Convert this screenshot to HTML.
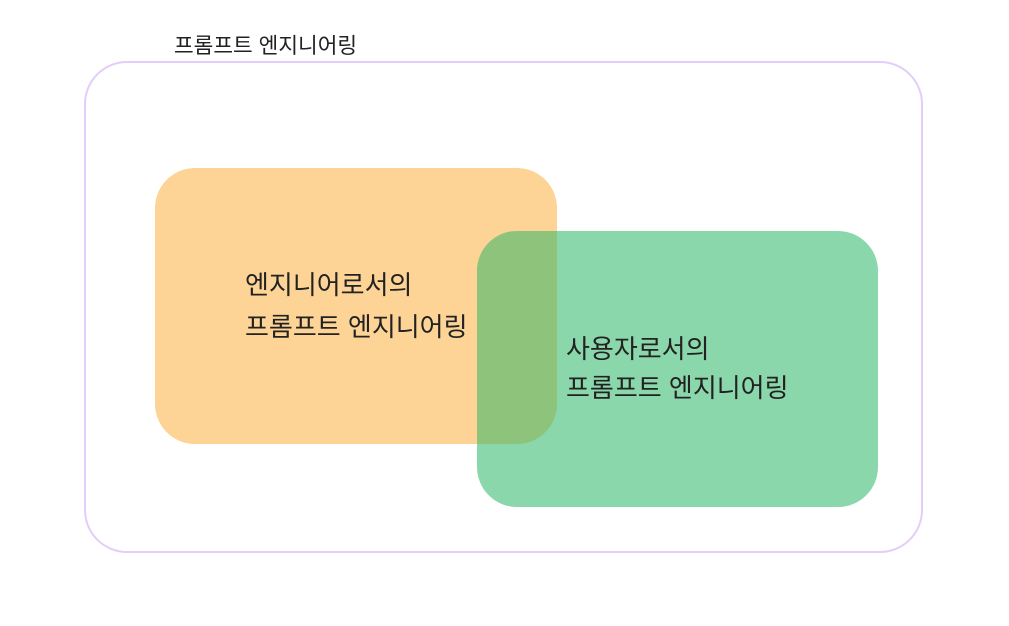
<!DOCTYPE html>
<html><head><meta charset="utf-8"><style>
html,body{margin:0;padding:0;background:#fff;}
body{width:1009px;height:621px;overflow:hidden;}
text{font-family:"Liberation Sans","Noto Sans CJK KR",sans-serif;fill:#222;}
</style></head><body>
<svg width="1009" height="621" viewBox="0 0 1009 621" xmlns="http://www.w3.org/2000/svg">
<defs>
<clipPath id="o"><rect x="155" y="168" width="402" height="276" rx="40"/></clipPath>
</defs>
<text x="174" y="53" font-size="21.4">프롬프트 엔지니어링</text>
<rect x="85" y="62" width="837" height="490" rx="42" fill="none" stroke="#e2cef8" stroke-width="2"/>
<rect x="155" y="168" width="402" height="276" rx="40" fill="#fdd396"/>
<rect x="477" y="231" width="401" height="276" rx="40" fill="#8ad7ab"/>
<rect x="477" y="231" width="401" height="276" rx="40" fill="#8dc37a" clip-path="url(#o)"/>
<text x="245" y="294" font-size="26">엔지니어로서의</text>
<text x="245" y="336" font-size="26">프롬프트 엔지니어링</text>
<text x="566" y="358" font-size="26">사용자로서의</text>
<text x="566" y="397" font-size="26">프롬프트 엔지니어링</text>
</svg>
</body></html>
